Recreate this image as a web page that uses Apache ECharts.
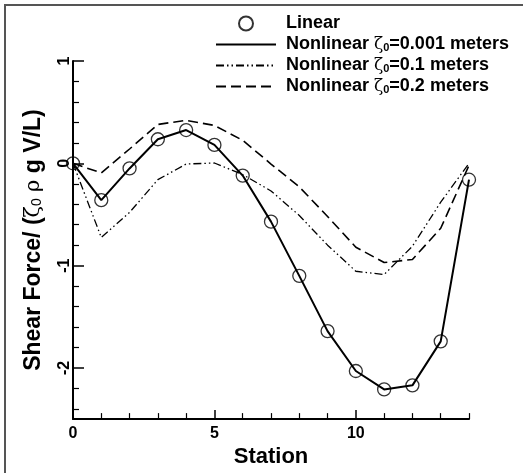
<!DOCTYPE html>
<html>
<head>
<meta charset="utf-8">
<script src="https://cdn.jsdelivr.net/npm/echarts@6/dist/echarts.min.js"></script>
<style>
html,body{margin:0;padding:0;background:#fff;}
#chart{width:528px;height:473px;}
</style>
</head>
<body>
<div id="chart"></div>
<script>
// ---- data ----
var stations = [0,1,2,3,4,5,6,7,8,9,10,11,12,13,14];
var linear      = [0,-0.36,-0.05,0.235,0.325,0.18,-0.12,-0.57,-1.10,-1.64,-2.03,-2.21,-2.17,-1.74,-0.16];
var nonlin001   = [0,-0.36,-0.05,0.235,0.325,0.18,-0.12,-0.57,-1.10,-1.64,-2.03,-2.21,-2.17,-1.74,-0.16];
var nonlin01    = [0,-0.725,-0.48,-0.16,-0.007,0.003,-0.11,-0.27,-0.51,-0.80,-1.055,-1.087,-0.81,-0.38,0];
var nonlin02    = [0,-0.094,0.14,0.38,0.42,0.37,0.225,-0.007,-0.23,-0.52,-0.82,-0.97,-0.94,-0.635,-0.02];
var seriesNames = ['Linear','Nonlinear z0=0.001 meters','Nonlinear z0=0.1 meters','Nonlinear z0=0.2 meters'];
var legendRich  = ['Linear','Nonlinear {z|ζ}{s|0}=0.001 meters','Nonlinear {z|ζ}{s|0}=0.1 meters','Nonlinear {z|ζ}{s|0}=0.2 meters'];
var xMajorTicks = [0,5,10];
var xMinorTicks = [1,2,3,4,6,7,8,9,11,12,13,14];
var yMajorTicks = [-2,-1,0,1];
var yMinorTicks = [-2.4,-2.2,-1.8,-1.6,-1.4,-1.2,-0.8,-0.6,-0.4,-0.2,0.2,0.4,0.6,0.8];
var xTitle = 'Station';
var yTitle = 'Shear Force/ ({z|ζ}{s|0} {z|ρ} g V/L)';

function pairs(xs, ys){ return xs.map(function(x,i){ return [x, ys[i]]; }); }

var FONT = 'Liberation Sans, Arial, Helvetica, sans-serif';
var chart = echarts.init(document.getElementById('chart'), null, {renderer:'canvas'});
var hiddenSym = {color:'rgba(0,0,0,0)', borderColor:'rgba(0,0,0,0)', borderWidth:0};

var option = {
  animation: false,
  backgroundColor: '#fff',
  grid: {left: 73, right: 59, top: 61, bottom: 50, containLabel: false},
  graphic: [
    {type:'line', shape:{x1:4, y1:5, x2:523, y2:5}, style:{stroke:'#555', lineWidth:2}},
    {type:'line', shape:{x1:5, y1:4, x2:5, y2:473}, style:{stroke:'#555', lineWidth:2}}
  ],
  legend: {
    orient: 'vertical',
    left: 210, top: 8,
    itemWidth: 60, itemHeight: 14, itemGap: 0,
    data: [
      {name: seriesNames[0]},
      {name: seriesNames[1], itemStyle: hiddenSym},
      {name: seriesNames[2], itemStyle: hiddenSym},
      {name: seriesNames[3], itemStyle: hiddenSym}
    ],
    formatter: function(name){ return legendRich[seriesNames.indexOf(name)]; },
    textStyle: {
      fontFamily: FONT, fontSize: 18, fontWeight: 'bold', color: '#000', lineHeight: 21,
      padding: [0,0,0,5],
      rich: {
        z: {fontFamily: 'DejaVu Serif, serif', fontSize: 17, fontWeight: 'normal', color:'#000'},
        s: {fontFamily: FONT, fontSize: 11, fontWeight: 'bold', color:'#000', padding:[7,0,0,0]}
      }
    }
  },
  xAxis: [
    {
      type: 'value', min: 0, max: 14, position: 'bottom',
      name: xTitle, nameLocation: 'middle', nameGap: 12,
      nameTextStyle: {fontFamily: FONT, fontSize: 22, fontWeight: 'bold', color:'#000'},
      axisLine: {show: true, onZero: false, lineStyle: {color:'#000', width: 2}},
      axisTick: {show: true, inside: true, length: 9, customValues: xMajorTicks, lineStyle:{color:'#000', width:1.5}},
      axisLabel: {show: true, customValues: xMajorTicks, margin: 6, fontFamily: FONT, fontSize: 16, fontWeight:'bold', color:'#000'},
      splitLine: {show: false}
    },
    {
      type: 'value', min: 0, max: 14, position: 'bottom',
      axisLine: {show: false, onZero: false},
      axisTick: {show: true, inside: true, length: 6, customValues: xMinorTicks, lineStyle:{color:'#000', width:1.2}},
      axisLabel: {show: false},
      splitLine: {show: false}
    }
  ],
  yAxis: [
    {
      type: 'value', min: -2.5, max: 1, position: 'left',
      name: yTitle, nameLocation: 'middle', nameGap: 28, nameRotate: 90,
      nameTextStyle: {
        fontFamily: FONT, fontSize: 23, fontWeight: 'bold', color:'#000',
        rich: {
          z: {fontFamily: 'DejaVu Serif, serif', fontSize: 21, fontWeight: 'normal', color:'#000'},
          s: {fontFamily: FONT, fontSize: 14, fontWeight: 'normal', color:'#000', padding:[8,0,0,0]}
        }
      },
      axisLine: {show: true, onZero: false, lineStyle: {color:'#000', width: 2}},
      axisTick: {show: true, inside: true, length: 11, customValues: yMajorTicks, lineStyle:{color:'#000', width:1.5}},
      axisLabel: {show: true, customValues: yMajorTicks, rotate: 90, margin: 0, fontFamily: FONT, fontSize: 16, fontWeight:'bold', color:'#000'},
      splitLine: {show: false}
    },
    {
      type: 'value', min: -2.5, max: 1, position: 'left',
      axisLine: {show: false, onZero: false},
      axisTick: {show: true, inside: true, length: 6, customValues: yMinorTicks, lineStyle:{color:'#000', width:1.2}},
      axisLabel: {show: false},
      splitLine: {show: false}
    }
  ],
  series: [
    {
      name: seriesNames[0], type: 'scatter', data: pairs(stations, linear),
      symbol: 'circle', symbolSize: 13, z: 5,
      itemStyle: {color: 'rgba(255,255,255,0)', borderColor: '#000', borderWidth: 1.3}
    },
    {
      name: seriesNames[1], type: 'line', data: pairs(stations, nonlin001),
      symbol: 'none', lineStyle: {color:'#000', width: 2, type: 'solid'}, itemStyle:{color:'#000'}
    },
    {
      name: seriesNames[2], type: 'line', data: pairs(stations, nonlin01),
      symbol: 'none', lineStyle: {color:'#000', width: 1.3, type: [8,3,1.5,3,1.5,3]}, itemStyle:{color:'#000'}
    },
    {
      name: seriesNames[3], type: 'line', data: pairs(stations, nonlin02),
      symbol: 'none', lineStyle: {color:'#000', width: 1.6, type: [10,5]}, itemStyle:{color:'#000'}
    }
  ]
};
chart.setOption(option);
</script>
</body>
</html>
